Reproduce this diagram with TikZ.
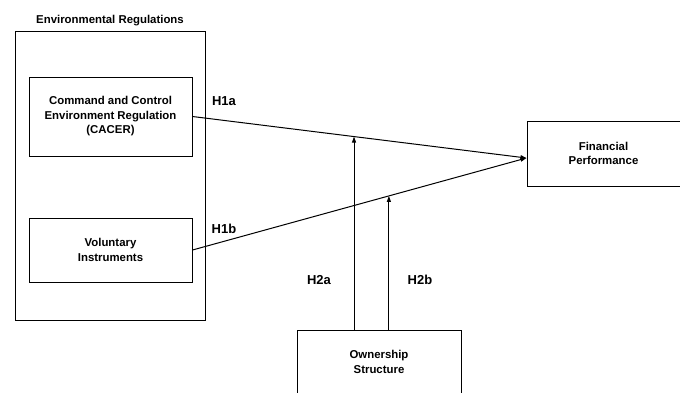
\documentclass[tikz,border=0pt]{standalone}
\usepackage{fontspec}
\setmainfont{Liberation Sans}
\usetikzlibrary{positioning,arrows.meta,calc}
\definecolor{inkblack}{HTML}{000000}
\tikzset{
  box/.style={
    draw=inkblack, align=center, inner sep=2pt, line width=1pt,
    font=\fontsize{11.4}{14.5}\selectfont\bfseries, text=inkblack,
  },
  hyp/.style  ={font=\fontsize{13}{15}\selectfont\bfseries, text=inkblack, inner sep=0pt},
  flow/.style ={-{Triangle[length=6pt,width=4pt]}, draw=inkblack, line width=1pt},
}

\begin{document}
\begin{tikzpicture}[x=1pt, y=-1pt]
\useasboundingbox (0,0) rectangle (680,392);

% ---------------------------------------------------------------- regulations
\node[box, minimum width=190pt, minimum height=289pt] (regs) at (110,175.5) {};
\node[box, draw=none, above=2pt of regs.north] (regstitle) {Environmental Regulations};

\node[box, minimum width=163pt, minimum height=79pt] (cacer) at (110.5,116.5)
  {Command and Control\\Environment Regulation\\(CACER)};
\node[box, minimum width=163pt, minimum height=64pt] (vol) at (110.5,250)
  {Voluntary\\Instruments};

% ---------------------------------------------------------------- outcome / moderator
\node[box, minimum width=153pt, minimum height=65pt] (fin) at (603.5,153.5)
  {Financial\\Performance};
\node[box, minimum width=164pt, minimum height=64pt] (own) at (379,362)
  {Ownership\\Structure};

% ---------------------------------------------------------------- edges
\coordinate (finin) at ($(fin.west)+(0,4.5)$);
\draw[flow] (cacer.east) -- (finin) coordinate[pos=0.4836] (mida);
\draw[flow] (vol.east) -- (finin) coordinate[pos=0.588] (midb);
\draw[flow] (own.north -| mida) -- (mida);
\draw[flow] (own.north -| midb) -- (midb);

% ---------------------------------------------------------------- hypotheses
\node[hyp] (h1a) at (224,101) {H1a};
\node[hyp] (h1b) at (224,229) {H1b};
\node[hyp] (h2a) at (319,280) {H2a};
\node[hyp] (h2b) at (420,280) {H2b};

\end{tikzpicture}
\end{document}
